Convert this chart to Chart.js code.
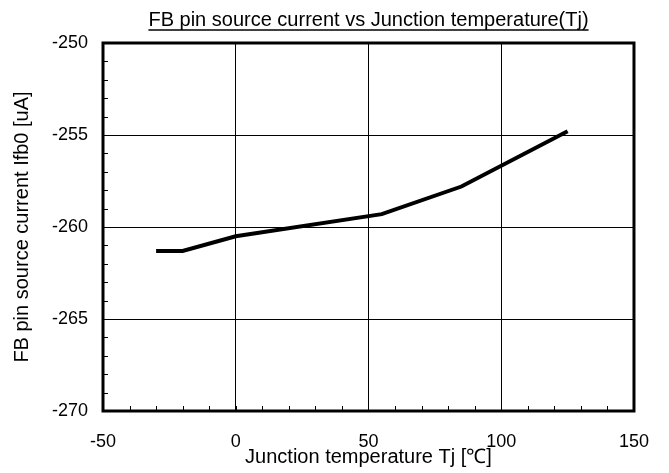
<!DOCTYPE html>
<html>
<head>
<meta charset="utf-8">
<script src="https://cdn.jsdelivr.net/npm/chart.js@4/dist/chart.umd.min.js"></script>
<style>
	html, body { margin: 0; padding: 0; background: #fff; }
	#wrap { width: 669px; height: 473px; }
</style>
</head>
<body>
<div id="wrap"><canvas id="chartIfb"></canvas></div>
<script>
// Junction temperature [°C] and FB pin source current [uA]
const tempC = [-30, -20, 0, 55, 85, 125];
const currentUA = [-261.3, -261.3, -260.5, -259.3, -257.8, -254.8];

const xTicks = [-50, 0, 50, 100, 150];
const yTicks = [-270, -265, -260, -255, -250];

const chartTitle = "FB pin source current vs Junction temperature(Tj)";
const xTitle = "Junction temperature Tj [\u2103]";
const yTitle = "FB pin source current Ifb0 [uA]";

const fontFamily = "'Liberation Sans', Arial, sans-serif";
const darkColor = "#000";

// Frame, underlined title and inward minor ticks
const framePlugin = {
	id: "frame",
	afterDraw(chart) {
		const { ctx, chartArea: a, scales } = chart;
		ctx.save();

		// minor ticks
		ctx.strokeStyle = darkColor;
		ctx.lineWidth = 1;
		ctx.beginPath();
		for (let v = -50; v <= 150; v += 10) {
			const px = Math.round(scales.x.getPixelForValue(v)) + 0.5;
			ctx.moveTo(px, a.bottom);
			ctx.lineTo(px, a.bottom - 5);
		}
		for (let v = -270; v <= -250; v += 1) {
			const py = Math.round(scales.y.getPixelForValue(v)) + 0.5;
			ctx.moveTo(a.left, py);
			ctx.lineTo(a.left + 5, py);
		}
		ctx.stroke();

		// frame
		ctx.lineWidth = 3;
		ctx.strokeRect(a.left, a.top, a.right - a.left, a.bottom - a.top);

		// title
		ctx.font = "20px " + fontFamily;
		ctx.fillStyle = darkColor;
		ctx.textAlign = "center";
		ctx.textBaseline = "alphabetic";
		const cx = (a.left + a.right) / 2;
		const ty = 26;
		ctx.fillText(chartTitle, cx, ty);
		const w = ctx.measureText(chartTitle).width;
		ctx.lineWidth = 1.5;
		ctx.beginPath();
		ctx.moveTo(cx - w / 2, ty + 4);
		ctx.lineTo(cx + w / 2, ty + 4);
		ctx.stroke();
		ctx.restore();
	},
};

function addChart(id) {
	return new Chart(document.getElementById(id), {
		type: "scatter",
		data: {
			datasets: [
				{
					label: "Ifb0",
					data: tempC.map((t, i) => ({ x: t, y: currentUA[i] })),
					showLine: true,
					borderColor: darkColor,
					backgroundColor: darkColor,
					borderWidth: 4,
					pointRadius: 0,
					tension: 0,
				},
			],
		},
		options: {
			responsive: true,
			maintainAspectRatio: false,
			animation: false,
			layout: {
				padding: { top: 43, right: 35, left: 0, bottom: 0 },
			},
			plugins: {
				legend: { display: false },
				tooltip: { enabled: false },
				title: { display: false },
			},
			scales: {
				x: {
					type: "linear",
					min: -50,
					max: 150,
					afterBuildTicks: (s) => { s.ticks = xTicks.map((v) => ({ value: v })); },
					afterFit: (s) => { s.height = 62; },
					grid: { color: darkColor, lineWidth: 1, drawTicks: false },
					border: { display: false },
					ticks: {
						color: darkColor,
						padding: 20,
						font: { size: 18, family: fontFamily },
						maxRotation: 0,
					},
					title: {
						display: true,
						text: xTitle,
						color: darkColor,
						font: { size: 20, family: fontFamily },
						padding: { top: 0, bottom: 4 },
					},
				},
				y: {
					type: "linear",
					min: -270,
					max: -250,
					afterBuildTicks: (s) => { s.ticks = yTicks.map((v) => ({ value: v })); },
					afterFit: (s) => { s.width = 103; },
					grid: { color: darkColor, lineWidth: 1, drawTicks: false },
					border: { display: false },
					ticks: {
						color: darkColor,
						padding: 15,
						font: { size: 18, family: fontFamily },
					},
					title: {
						display: true,
						text: yTitle,
						color: darkColor,
						font: { size: 20, family: fontFamily },
						padding: { top: 10, bottom: 0 },
					},
				},
			},
		},
		plugins: [framePlugin],
	});
}

addChart("chartIfb");
</script>
</body>
</html>
